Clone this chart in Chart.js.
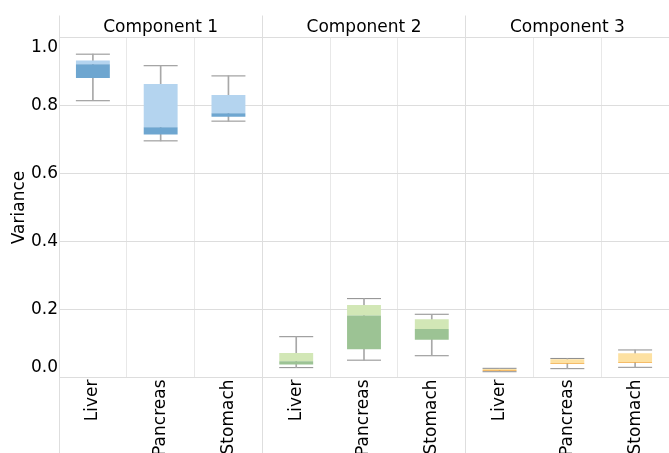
<!DOCTYPE html>
<html>
<head>
<meta charset="utf-8">
<script src="https://cdn.jsdelivr.net/npm/chart.js@4/dist/chart.umd.min.js"></script>
<style>
  html, body { margin: 0; padding: 0; background: #fff; }
  #wrap { width: 669px; height: 453px; }
</style>
</head>
<body>
<div id="wrap"><canvas id="c"></canvas></div>
<script>
// Facets and categories
const components = ['Component 1', 'Component 2', 'Component 3'];
const tissues = ['Liver', 'Pancreas', 'Stomach'];

// Box statistics, one entry per (component, tissue) in facet order
const minVals    = [0.814, 0.696, 0.754, 0.029, 0.051, 0.064, 0.017, 0.026, 0.030];
const q1Vals     = [0.881, 0.715, 0.767, 0.038, 0.083, 0.111, 0.019, 0.040, 0.043];
const medianVals = [0.921, 0.736, 0.777, 0.048, 0.182, 0.143, 0.021, 0.042, 0.045];
const q3Vals     = [0.932, 0.863, 0.831, 0.072, 0.213, 0.171, 0.025, 0.054, 0.071];
const maxVals    = [0.951, 0.917, 0.887, 0.120, 0.232, 0.186, 0.027, 0.056, 0.081];

// Y axis tick values
const yTicks = [0.0, 0.2, 0.4, 0.6, 0.8, 1.0];

// Colours per component: lower half (q1..median) and upper half (median..q3)
const darkColors  = ['#6ea6d0', '#9cc394', '#f2a93f'];
const lightColors = ['#b4d4ef', '#d2e7b6', '#fde1a2'];

const labels = components.flatMap(() => tissues);
const facetOf = i => Math.floor(i / tissues.length);

// Facet cell borders that run through the header and label bands
const facetBorders = {
  id: 'facetBorders',
  beforeDatasetsDraw(chart) {
    const { ctx, chartArea } = chart;
    const x = chart.scales.x;
    const step = (x.right - x.left) / components.length;
    ctx.save();
    ctx.strokeStyle = '#dedede';
    ctx.lineWidth = 1;
    for (let g = 0; g <= components.length; g++) {
      const px = Math.round(x.left + g * step - 0.5) + 0.5;
      ctx.beginPath();
      ctx.moveTo(px, chartArea.top - 22);
      ctx.lineTo(px, chart.height);
      ctx.stroke();
    }
    ctx.restore();
  }
};

Chart.defaults.font.family = "'DejaVu Sans', sans-serif";
Chart.defaults.font.size = 17;
Chart.defaults.color = '#000';

new Chart(document.getElementById('c'), {
  type: 'bar',
  data: {
    labels: labels,
    datasets: [
      {
        label: 'q1-median',
        data: labels.map((_, i) => [q1Vals[i], medianVals[i]]),
        backgroundColor: labels.map((_, i) => darkColors[facetOf(i)]),
        grouped: false, categoryPercentage: 1, barPercentage: 0.5,
        borderWidth: 0, xAxisID: 'x'
      },
      {
        label: 'median-q3',
        data: labels.map((_, i) => [medianVals[i], q3Vals[i]]),
        backgroundColor: labels.map((_, i) => lightColors[facetOf(i)]),
        grouped: false, categoryPercentage: 1, barPercentage: 0.5,
        borderWidth: 0, xAxisID: 'x'
      },
      {
        label: 'whisker',
        data: labels.map((_, i) => [minVals[i], maxVals[i]]),
        backgroundColor: '#a8a8a8',
        grouped: false, barThickness: 1,
        borderWidth: 0, xAxisID: 'x'
      },
      {
        type: 'line',
        label: 'min',
        data: minVals,
        showLine: false,
        pointStyle: 'line',
        pointRadius: 17, pointHoverRadius: 17,
        pointBorderWidth: 1, pointBorderColor: '#8c8c8c',
        xAxisID: 'x'
      },
      {
        type: 'line',
        label: 'max',
        data: maxVals,
        showLine: false,
        pointStyle: 'line',
        pointRadius: 17, pointHoverRadius: 17,
        pointBorderWidth: 1, pointBorderColor: '#8c8c8c',
        xAxisID: 'x'
      }
    ]
  },
  options: {
    responsive: true,
    maintainAspectRatio: false,
    devicePixelRatio: 1,
    animation: false,
    events: [],
    layout: { autoPadding: false, padding: { left: 0, top: 0, bottom: 0, right: -1 } },
    plugins: {
      legend: { display: false },
      tooltip: { enabled: false }
    },
    scales: {
      x: {
        type: 'category',
        position: 'bottom',
        offset: true,
        grid: { offset: true, color: '#e8e8e8', drawTicks: false },
        border: { display: false },
        ticks: {
          autoSkip: false, minRotation: 90, maxRotation: 90,
          padding: 2, color: '#000', font: { size: 17 }
        },
        afterFit(s) { s.height = 75.5; s.paddingLeft = 0; s.paddingRight = 0; }
      },
      x2: {
        type: 'category',
        position: 'top',
        labels: components,
        offset: true,
        grid: { display: false, drawTicks: false },
        border: { display: false },
        ticks: { padding: 0, color: '#000', font: { size: 17 } },
        afterFit(s) { s.height = 37.5; s.paddingLeft = 0; s.paddingRight = 0; }
      },
      y: {
        min: 0,
        max: 1,
        afterBuildTicks(s) { s.ticks = yTicks.map(v => ({ value: v })); },
        grid: { color: '#dddddd', drawTicks: false },
        border: { display: false },
        ticks: {
          padding: 1,
          color: '#000',
          font: { size: 17 },
          callback(v, i, t) {
            const s = Number(v).toFixed(1);
            if (i === 0) return [s, ''];
            if (i === t.length - 1) return ['', s];
            return s;
          }
        },
        title: {
          display: true,
          text: 'Variance',
          color: '#000',
          font: { size: 17 },
          padding: { top: 9, bottom: 0 }
        },
        afterFit(s) { s.width = 59; s.paddingTop = 0; s.paddingBottom = 0; }
      }
    }
  },
  plugins: [facetBorders]
});
</script>
</body>
</html>
